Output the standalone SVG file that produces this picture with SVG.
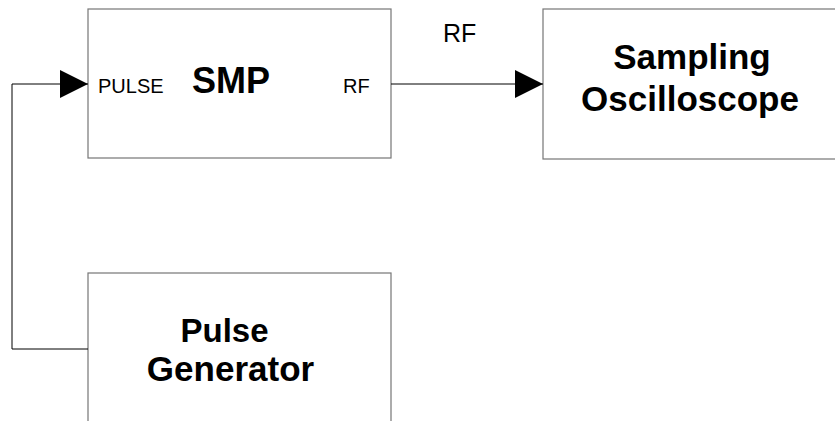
<svg xmlns="http://www.w3.org/2000/svg" width="835" height="421" viewBox="0 0 835 421">
<style>
.box{fill:#fff;stroke:#767676;stroke-width:1.2}
.wire{fill:none;stroke:#000;stroke-width:1}
.t{font-family:"Liberation Sans",Arial,sans-serif;fill:#000}
.b{font-weight:bold;font-size:35px;text-anchor:middle}
.s{font-size:20px}
</style>
<defs>
<marker id="arr" markerWidth="28" markerHeight="28" viewBox="0 0 28 28" refX="28" refY="14" orient="auto" markerUnits="userSpaceOnUse">
<path d="M0,0 L28,14 L0,28 Z" fill="#000"/>
</marker>
</defs>
<rect width="835" height="421" fill="#fff"/>
<g id="smp">
<rect class="box" x="88" y="9" width="303" height="149"/>
<text class="t s" x="98" y="93">PULSE</text>
<text class="t b" x="231" y="93" style="font-size:36px">SMP</text>
<text class="t s" x="343" y="93">RF</text>
</g>
<g id="scope">
<rect class="box" x="543" y="9" width="300" height="150"/>
<text class="t b" x="692" y="69">Sampling</text>
<text class="t b" x="690" y="111">Oscilloscope</text>
</g>
<g id="pulsegen">
<rect class="box" x="88" y="273" width="303" height="160"/>
<text class="t b" x="224.5" y="342" style="font-size:33px">Pulse</text>
<text class="t b" x="230.5" y="381">Generator</text>
</g>
<g id="connectors">
<path class="wire" d="M88,349 H12 V84 H88" marker-end="url(#arr)"/>
<path class="wire" d="M391,84 H543" marker-end="url(#arr)"/>
<text class="t" x="443" y="42" font-size="25">RF</text>
</g>
</svg>
